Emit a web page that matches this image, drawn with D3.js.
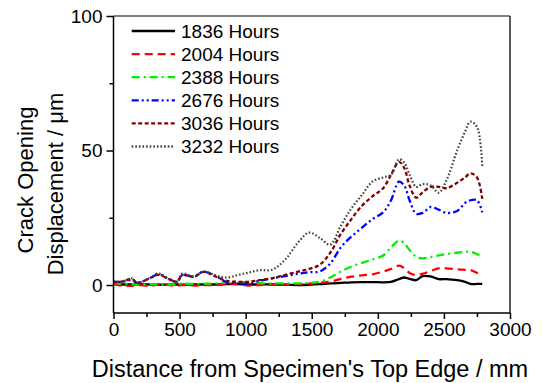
<!DOCTYPE html>
<html><head><meta charset="utf-8">
<script src="https://cdn.jsdelivr.net/npm/d3@7/dist/d3.min.js"></script>
<style>body{margin:0;background:#fff}svg{display:block}text{font-family:"Liberation Sans",Arial,sans-serif;fill:#000}</style>
</head><body><svg id="c" width="542" height="383"></svg>
<script>
const xs = [0,60,140,180,280,340,420,480,520,610,680,780,860,940,1020,1100,1200,1300,1400,1480,1560,1640,1720,1800,1880,1960,2040,2100,2160,2200,2240,2290,2340,2400,2460,2520,2600,2660,2700,2750,2790];
const h1836 = [0.3,0.2,0.2,0.2,0.2,0.1,0.2,0.2,0.1,0.2,0.2,0.2,0.3,0.3,0.2,0.2,0.2,0.1,0.0,0.1,0.3,0.6,0.8,1.0,1.1,1.1,1.0,1.2,2.2,2.8,2.3,1.8,3.3,3.2,2.2,2.2,1.8,1.2,0.4,0.4,0.4];
const h2004 = [0.3,-0.2,-0.3,0.0,-0.3,0.2,0.0,-0.3,0.0,-0.2,0.0,0.0,0.5,0.3,-0.2,0.0,0.2,0.2,0.3,0.5,0.8,1.3,2.3,3.1,3.6,4.0,5.0,6.0,7.2,6.2,4.5,3.7,4.2,5.2,6.2,6.2,5.8,5.6,5.6,4.5,3.7];
const h2388 = [0.8,0.5,0.3,0.2,0.3,0.2,0.2,0.3,0.5,0.4,0.5,0.6,1.0,1.2,0.9,0.7,0.6,0.6,0.6,0.8,1.2,2.8,5.0,6.9,8.2,9.5,11.0,14.0,16.5,15.5,13.0,10.5,9.9,10.4,11.0,11.5,12.0,12.3,12.4,11.5,10.3];
const h2676 = [1.3,1.2,1.8,0.8,2.7,4.0,2.2,1.2,3.7,3.1,5.0,3.1,1.0,0.6,0.5,1.5,2.5,3.3,4.2,4.8,5.0,8.0,14.0,18.0,21.3,24.5,27.0,31.5,38.4,37.0,31.5,26.5,26.8,29.0,28.0,26.8,27.5,30.5,31.5,31.5,27.0];
const h3036 = [1.0,1.2,2.2,0.8,2.7,3.8,2.2,1.2,3.7,3.1,4.9,3.0,1.5,1.2,1.2,1.8,2.5,3.8,5.0,6.0,7.5,12.0,19.0,24.5,29.5,33.0,36.0,41.0,45.8,43.5,37.0,32.5,34.5,36.5,36.5,36.0,38.0,40.0,41.5,40.0,32.0];
const h3232 = [1.5,1.2,2.5,0.8,2.7,4.3,2.2,1.2,4.3,3.1,5.0,3.5,2.8,3.7,4.6,5.5,5.7,9.5,16.0,19.5,17.5,15.0,22.0,28.5,33.5,38.5,40.0,41.0,46.7,45.5,41.0,36.5,37.5,37.0,34.3,39.0,50.0,57.0,60.7,58.8,44.0];
const seriesNames = ["1836 Hours","2004 Hours","2388 Hours","2676 Hours","3036 Hours","3232 Hours"];
const xTicks = [0,500,1000,1500,2000,2500,3000];
const yTicks = [0,50,100];

const series = [h1836,h2004,h2388,h2676,h3036,h3232];
const colors = ["#000000","#ff0000","#00ee00","#0000ff","#800000","#444444"];
const dashes = [null,"8,5","8,4,2,4","7,3,2,3,2,3","4,2.5","1.6,2"];

const svg = d3.select("#c");
const L=113.5, R=510, T=16, B=313;
const x = d3.scaleLinear().domain([0,3000]).range([L,R]);
const y = d3.scaleLinear().domain([-10.4,100]).range([B,T]);

const line = d3.line().x(d=>x(d[0])).y(d=>y(d[1])).curve(d3.curveCatmullRom.alpha(0.5));
series.forEach((s,i)=>{
  svg.append("path").datum(xs.map((v,j)=>[v,s[j]]))
    .attr("d",line).attr("fill","none").attr("stroke",colors[i])
    .attr("stroke-width",i===5?2.2:2.3).attr("stroke-dasharray",dashes[i]);
});

svg.append("line").attr("x1",L).attr("x2",R).attr("y1",T).attr("y2",T).attr("stroke","#555").attr("stroke-width",1.5);
svg.append("line").attr("x1",R).attr("x2",R).attr("y1",T).attr("y2",B).attr("stroke","#222").attr("stroke-width",1.5);

const fs = "19px";
const xa = svg.append("g").attr("transform",`translate(0,${B})`)
  .call(d3.axisBottom(x).tickValues(xTicks).tickFormat(d3.format("d")).tickSize(6).tickPadding(4).tickSizeOuter(0));
svg.append("g").attr("transform",`translate(0,${B})`)
  .call(d3.axisBottom(x).tickValues([250,750,1250,1750,2250,2750]).tickFormat("").tickSize(4).tickSizeOuter(0))
  .select(".domain").remove();
const ya = svg.append("g").attr("transform",`translate(${L},0)`)
  .call(d3.axisLeft(y).tickValues(yTicks).tickSize(7).tickPadding(4).tickSizeOuter(0));
svg.append("g").attr("transform",`translate(${L},0)`)
  .call(d3.axisLeft(y).tickValues([25,75]).tickFormat("").tickSize(4).tickSizeOuter(0))
  .select(".domain").remove();
svg.selectAll(".tick text").attr("font-size",fs).attr("font-family",'"Liberation Sans",Arial,sans-serif').attr("fill","#000");
svg.selectAll(".domain, .tick line").attr("stroke","#000").attr("stroke-width",1.5);
ya.select(".domain").attr("d",`M0,${B}V${T}`);
xa.select(".domain").attr("d",`M${L},0H${R}`);

svg.append("text").attr("x",310).attr("y",377).attr("text-anchor","middle").attr("font-size","23.5px")
  .text("Distance from Specimen's Top Edge / mm");
svg.append("text").attr("transform","translate(33,180) rotate(-90)").attr("text-anchor","middle").attr("font-size","22px").text("Crack Opening");
svg.append("text").attr("transform","translate(63,184) rotate(-90)").attr("text-anchor","middle").attr("font-size","22px").text("Displacement / \u03bcm");

const lg = svg.append("g");
seriesNames.forEach((n,i)=>{
  const yy = 31 + i*23.1;
  lg.append("line").attr("x1",131.7).attr("x2",175).attr("y1",yy).attr("y2",yy)
    .attr("stroke",colors[i]).attr("stroke-width",2.3).attr("stroke-dasharray",dashes[i]);
  lg.append("text").attr("x",181).attr("y",yy).attr("dy","0.36em").attr("font-size",fs).text(n);
});
</script></body></html>
